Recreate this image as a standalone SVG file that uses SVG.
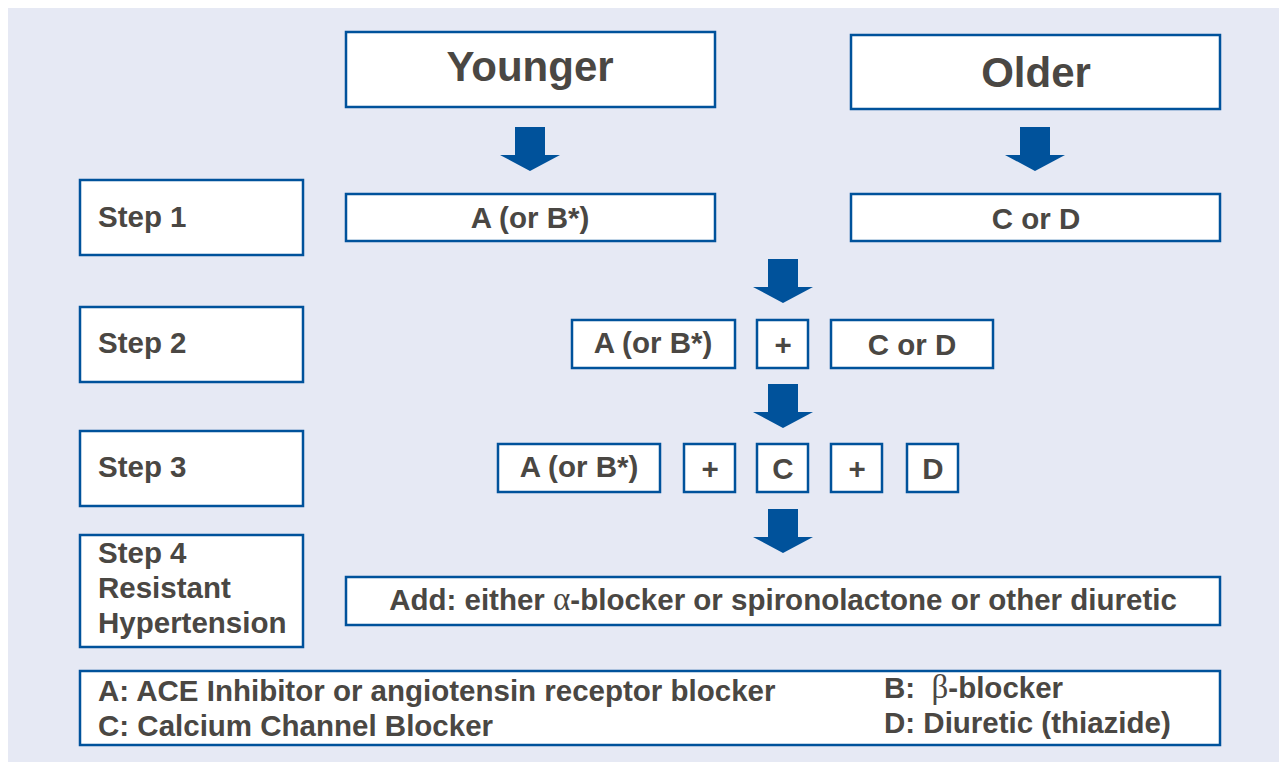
<svg xmlns="http://www.w3.org/2000/svg" width="1279" height="762" viewBox="0 0 1279 762">
<style>
.bg{fill:#e6e9f4}
.box{fill:#fff;stroke:#00529b;stroke-width:2.5}
.t{font-family:"Liberation Sans",Arial,sans-serif;font-weight:bold;fill:#4a4743;font-size:29.5px}
.c{text-anchor:middle}
.big{font-size:42px}
.g{font-family:"Liberation Serif","Times New Roman",serif;font-weight:normal;font-size:33px}
.arr{fill:#00529b}
</style>
<defs>
<path id="arrow" d="M-15,0 H15 V28 H30 L0,44 L-30,28 H-15 Z"/>
</defs>
<rect class="bg" x="8" y="8" width="1271" height="754"/>
<g id="younger"><rect class="box" x="346" y="32" width="369" height="75"/><text class="t c big" x="530" y="81">Younger</text></g>
<g id="older"><rect class="box" x="851" y="35" width="369" height="74"/><text class="t c big" x="1036" y="87">Older</text></g>
<g id="step1"><rect class="box" x="80" y="180" width="223" height="75"/><text class="t" x="98" y="227">Step 1</text></g>
<g id="s1a"><rect class="box" x="346" y="194" width="369" height="47"/><text class="t c" x="530" y="228">A (or B*)</text></g>
<g id="s1c"><rect class="box" x="851" y="194" width="369" height="47"/><text class="t c" x="1036" y="229">C or D</text></g>
<g id="step2"><rect class="box" x="80" y="307" width="223" height="75"/><text class="t" x="98" y="353">Step 2</text></g>
<g id="s2a"><rect class="box" x="572" y="320" width="163" height="48"/><text class="t c" x="653" y="353">A (or B*)</text></g>
<g id="s2p"><rect class="box" x="757" y="320" width="51" height="48"/><text class="t c" x="783" y="355">+</text></g>
<g id="s2c"><rect class="box" x="831" y="320" width="162" height="48"/><text class="t c" x="912" y="355">C or D</text></g>
<g id="step3"><rect class="box" x="80" y="431" width="223" height="75"/><text class="t" x="98" y="477">Step 3</text></g>
<g id="s3a"><rect class="box" x="498" y="444" width="162" height="48"/><text class="t c" x="579" y="477">A (or B*)</text></g>
<g id="s3p1"><rect class="box" x="684" y="444" width="51" height="48"/><text class="t c" x="710" y="479">+</text></g>
<g id="s3c"><rect class="box" x="757" y="444" width="51" height="48"/><text class="t c" x="783" y="479">C</text></g>
<g id="s3p2"><rect class="box" x="831" y="444" width="51" height="48"/><text class="t c" x="857" y="479">+</text></g>
<g id="s3d"><rect class="box" x="907" y="444" width="51" height="48"/><text class="t c" x="933" y="479">D</text></g>
<g id="step4"><rect class="box" x="80" y="535" width="223" height="112"/><text class="t" x="98" y="563">Step 4</text><text class="t" x="98" y="598">Resistant</text><text class="t" x="98" y="633">Hypertension</text></g>
<g id="s4"><rect class="box" x="346" y="577" width="874" height="48"/><text class="t c" x="783" y="610">Add: either <tspan class="g">α</tspan>-blocker or spironolactone or other diuretic</text></g>
<g id="legend"><rect class="box" x="80" y="671" width="1140" height="74"/>
<text class="t" x="98" y="701">A: ACE Inhibitor or angiotensin receptor blocker</text>
<text class="t" x="98" y="736">C: Calcium Channel Blocker</text>
<text class="t" x="884" y="698">B:&#160;&#160;<tspan class="g">β</tspan>-blocker</text>
<text class="t" x="884" y="733">D: Diuretic (thiazide)</text>
</g>
<g id="connectors">
<use href="#arrow" class="arr" x="530" y="127"/>
<use href="#arrow" class="arr" x="1035" y="127"/>
<use href="#arrow" class="arr" x="783" y="259"/>
<use href="#arrow" class="arr" x="783" y="384"/>
<use href="#arrow" class="arr" x="783" y="509"/>
</g>
</svg>
